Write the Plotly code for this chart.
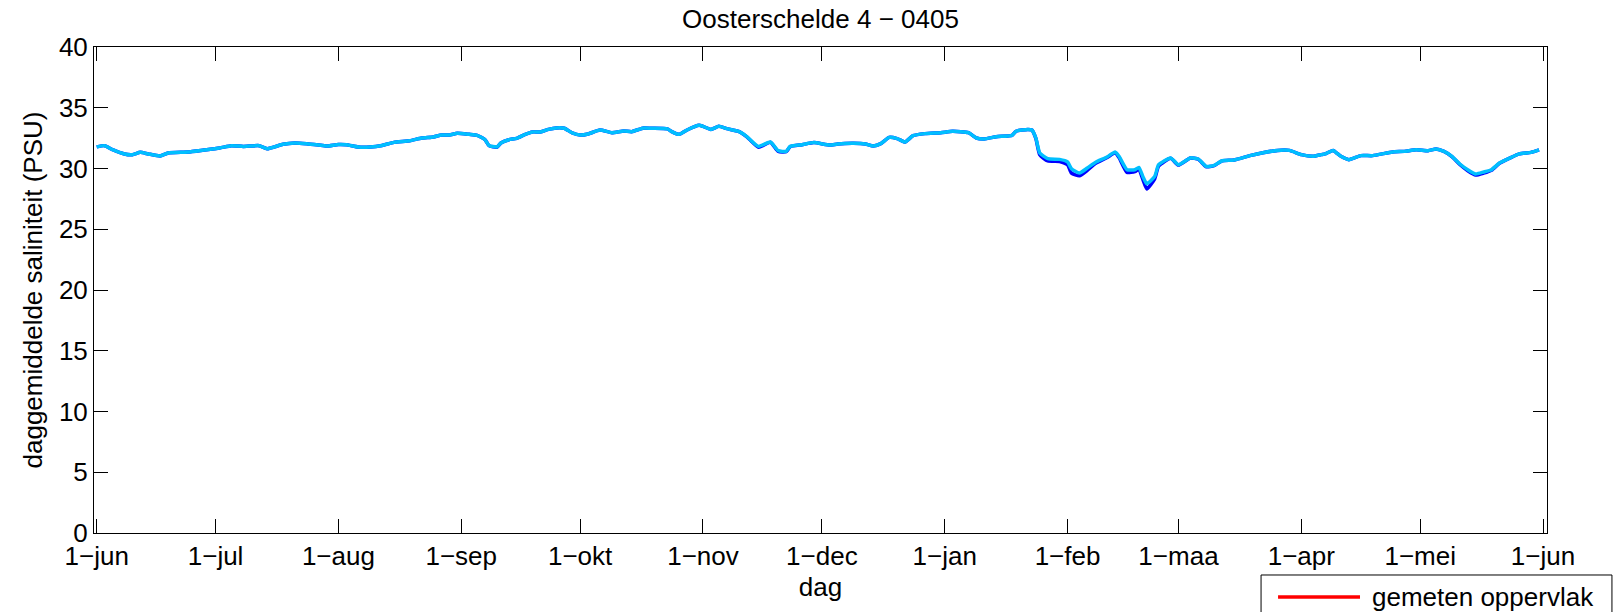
import plotly.graph_objects as go

# Daily-mean salinity, Oosterschelde station 4, season 2004-2005
dates = [
    "2004-06-01", "2004-06-03", "2004-06-05", "2004-06-08", "2004-06-10", "2004-06-12",
    "2004-06-14", "2004-06-17", "2004-06-19", "2004-06-24", "2004-06-28", "2004-07-02",
    "2004-07-05", "2004-07-08", "2004-07-12", "2004-07-14", "2004-07-18", "2004-07-21",
    "2004-07-24", "2004-07-27", "2004-07-29", "2004-08-01", "2004-08-03", "2004-08-06",
    "2004-08-09", "2004-08-12", "2004-08-15", "2004-08-19", "2004-08-22", "2004-08-25",
    "2004-08-27", "2004-08-29", "2004-08-31", "2004-09-03", "2004-09-05", "2004-09-07",
    "2004-09-08", "2004-09-10", "2004-09-11", "2004-09-13", "2004-09-15", "2004-09-17",
    "2004-09-19", "2004-09-21", "2004-09-23", "2004-09-25", "2004-09-27", "2004-09-29",
    "2004-10-01", "2004-10-03", "2004-10-06", "2004-10-09", "2004-10-12", "2004-10-14",
    "2004-10-17", "2004-10-19", "2004-10-23", "2004-10-24", "2004-10-26", "2004-10-28",
    "2004-10-31", "2004-11-01", "2004-11-03", "2004-11-05", "2004-11-07", "2004-11-10",
    "2004-11-12", "2004-11-15", "2004-11-18", "2004-11-20", "2004-11-22", "2004-11-23",
    "2004-11-26", "2004-11-29", "2004-12-03", "2004-12-05", "2004-12-09", "2004-12-12",
    "2004-12-14", "2004-12-16", "2004-12-18", "2004-12-20", "2004-12-22", "2004-12-24",
    "2004-12-27", "2004-12-31", "2005-01-03", "2005-01-07", "2005-01-09", "2005-01-11",
    "2005-01-14", "2005-01-18", "2005-01-19", "2005-01-22", "2005-01-23", "2005-01-24",
    "2005-01-25", "2005-01-27", "2005-01-30", "2005-02-01", "2005-02-02", "2005-02-04",
    "2005-02-06", "2005-02-08", "2005-02-11", "2005-02-13", "2005-02-14", "2005-02-16",
    "2005-02-18", "2005-02-19", "2005-02-20", "2005-02-21", "2005-02-23", "2005-02-24",
    "2005-02-27", "2005-03-01", "2005-03-04", "2005-03-06", "2005-03-08", "2005-03-10",
    "2005-03-12", "2005-03-15", "2005-03-19", "2005-03-22", "2005-03-26", "2005-03-29",
    "2005-04-01", "2005-04-04", "2005-04-06", "2005-04-07", "2005-04-09", "2005-04-11",
    "2005-04-13", "2005-04-16", "2005-04-19", "2005-04-24", "2005-04-27", "2005-04-30",
    "2005-05-03", "2005-05-05", "2005-05-07", "2005-05-09", "2005-05-11", "2005-05-13",
    "2005-05-15", "2005-05-17", "2005-05-19", "2005-05-21", "2005-05-24", "2005-05-26",
    "2005-05-29", "2005-05-31",
]

# computed near-bottom salinity (dark blue)
sal_bottom = [
    31.78, 31.88, 31.55, 31.20, 31.14, 31.33,
    31.20, 31.03, 31.28, 31.36, 31.52, 31.69,
    31.88, 31.82, 31.88, 31.63, 31.99, 32.10,
    32.04, 31.93, 31.85, 31.98, 31.96, 31.77,
    31.77, 31.90, 32.15, 32.29, 32.51, 32.60,
    32.76, 32.76, 32.90, 32.81, 32.73, 32.37,
    31.88, 31.75, 32.10, 32.37, 32.48, 32.79,
    33.01, 33.01, 33.22, 33.34, 33.31, 32.93,
    32.75, 32.84, 33.17, 32.95, 33.09, 33.03,
    33.34, 33.31, 33.26, 33.06, 32.81, 33.17,
    33.55, 33.47, 33.22, 33.47, 33.28, 33.06,
    32.63, 31.75, 32.16, 31.40, 31.38, 31.80,
    31.96, 32.13, 31.93, 32.02, 32.07, 32.02,
    31.85, 32.07, 32.56, 32.46, 32.18, 32.70,
    32.87, 32.95, 33.06, 32.95, 32.51, 32.43,
    32.62, 32.73, 33.06, 33.22, 33.17, 32.48,
    31.12, 30.62, 30.58, 30.32, 29.62, 29.40,
    29.85, 30.40, 30.90, 31.30, 30.90, 29.68,
    29.74, 29.94, 29.10, 28.32, 29.15, 30.20,
    30.84, 30.28, 30.86, 30.76, 30.14, 30.24,
    30.63, 30.70, 31.06, 31.28, 31.49, 31.49,
    31.14, 31.00, 31.14, 31.20, 31.49, 31.00,
    30.73, 31.06, 31.06, 31.36, 31.41, 31.55,
    31.47, 31.61, 31.41, 30.98, 30.33, 29.82,
    29.46, 29.62, 29.86, 30.43, 30.92, 31.20,
    31.33, 31.53,
]

# computed surface salinity (light blue)
sal_surface = [
    31.78, 31.88, 31.55, 31.20, 31.14, 31.33,
    31.20, 31.03, 31.28, 31.36, 31.52, 31.69,
    31.88, 31.82, 31.88, 31.63, 31.99, 32.10,
    32.04, 31.93, 31.85, 31.98, 31.96, 31.77,
    31.77, 31.90, 32.15, 32.29, 32.51, 32.60,
    32.76, 32.76, 32.90, 32.81, 32.73, 32.37,
    31.90, 31.77, 32.10, 32.37, 32.48, 32.79,
    33.01, 33.01, 33.22, 33.34, 33.31, 32.93,
    32.75, 32.84, 33.17, 32.95, 33.09, 33.03,
    33.34, 33.31, 33.26, 33.06, 32.81, 33.17,
    33.55, 33.47, 33.22, 33.47, 33.28, 33.06,
    32.65, 31.82, 32.18, 31.47, 31.41, 31.82,
    31.96, 32.13, 31.93, 32.02, 32.07, 32.02,
    31.85, 32.07, 32.56, 32.46, 32.18, 32.70,
    32.87, 32.95, 33.06, 32.95, 32.51, 32.43,
    32.62, 32.73, 33.06, 33.22, 33.17, 32.51,
    31.28, 30.81, 30.75, 30.54, 29.98, 29.63,
    30.04, 30.50, 30.95, 31.36, 31.00, 29.90,
    29.90, 30.09, 29.35, 28.75, 29.35, 30.31,
    30.87, 30.31, 30.87, 30.78, 30.17, 30.26,
    30.64, 30.70, 31.06, 31.28, 31.49, 31.49,
    31.14, 31.00, 31.14, 31.20, 31.49, 31.00,
    30.73, 31.06, 31.06, 31.36, 31.41, 31.55,
    31.47, 31.61, 31.41, 31.00, 30.37, 29.90,
    29.55, 29.71, 29.90, 30.45, 30.92, 31.20,
    31.33, 31.53,
]

# measured surface salinity: no observations in this period
meas_dates = []
meas_surface = []

tick_dates = [
    "2004-06-01", "2004-07-01", "2004-08-01", "2004-09-01", "2004-10-01",
    "2004-11-01", "2004-12-01", "2005-01-01", "2005-02-01", "2005-03-01",
    "2005-04-01", "2005-05-01", "2005-06-01",
]
tick_labels = [
    "1\u2212jun", "1\u2212jul", "1\u2212aug", "1\u2212sep", "1\u2212okt",
    "1\u2212nov", "1\u2212dec", "1\u2212jan", "1\u2212feb", "1\u2212maa",
    "1\u2212apr", "1\u2212mei", "1\u2212jun",
]

FONT = "Liberation Sans, Arial, Helvetica, sans-serif"
FS = 26

fig = go.Figure()
fig.add_trace(go.Scatter(
    x=meas_dates, y=meas_surface, mode="lines", name="gemeten oppervlak",
    line=dict(color="#FF0000", width=3.5), showlegend=False,
))
fig.add_trace(go.Scatter(
    x=dates, y=sal_bottom, mode="lines", name="berekend bodem",
    line=dict(color="#0000FF", width=3.5, shape="spline", smoothing=0.5),
    showlegend=False,
))
fig.add_trace(go.Scatter(
    x=dates, y=sal_surface, mode="lines", name="berekend oppervlak",
    line=dict(color="#00BFFF", width=3.5, shape="spline", smoothing=0.5),
    showlegend=False,
))

axis_common = dict(
    showline=True, linecolor="black", linewidth=1, mirror="ticks",
    ticks="inside", ticklen=14, tickwidth=1, tickcolor="black",
    showgrid=False, zeroline=False,
    tickfont=dict(family=FONT, size=FS, color="black"),
)

fig.update_layout(
    width=1618, height=612,
    margin=dict(l=94, r=71, t=47, b=79),
    paper_bgcolor="white", plot_bgcolor="white",
    font=dict(family=FONT, size=FS, color="black"),
    title=dict(text="Oosterschelde 4 \u2212 0405", x=0.5, xref="paper",
               y=1 - 19 / 612, yref="container", xanchor="center", yanchor="middle",
               font=dict(family=FONT, size=FS, color="black")),
    xaxis=dict(
        type="date", range=["2004-05-31 07:40", "2005-06-02 00:00"],
        tickmode="array", tickvals=tick_dates, ticktext=tick_labels,
        title=dict(text="dag", standoff=7, font=dict(family=FONT, size=FS)),
        **axis_common,
    ),
    yaxis=dict(
        range=[0, 40], tickmode="linear", tick0=0, dtick=5,
        title=dict(text="daggemiddelde saliniteit (PSU)", standoff=8,
                   font=dict(family=FONT, size=FS)),
        **axis_common,
    ),
    showlegend=False,
)

# legend box in the lower right corner (runs past the bottom edge)
fig.add_shape(type="rect", xref="paper", yref="paper",
              x0=0.8032, x1=1.0447, y0=-0.0864, y1=-0.30,
              line=dict(color="black", width=1), fillcolor="white", layer="above")
fig.add_shape(type="line", xref="paper", yref="paper",
              x0=0.8149, x1=0.8713, y0=-0.1317, y1=-0.1317,
              line=dict(color="#FF0000", width=3.5), layer="above")
fig.add_annotation(text="gemeten oppervlak", xref="paper", yref="paper",
                   x=0.8782, y=-0.1317, xanchor="left", yanchor="middle",
                   showarrow=False, font=dict(family=FONT, size=FS, color="black"))

fig.write_html("out.html")
